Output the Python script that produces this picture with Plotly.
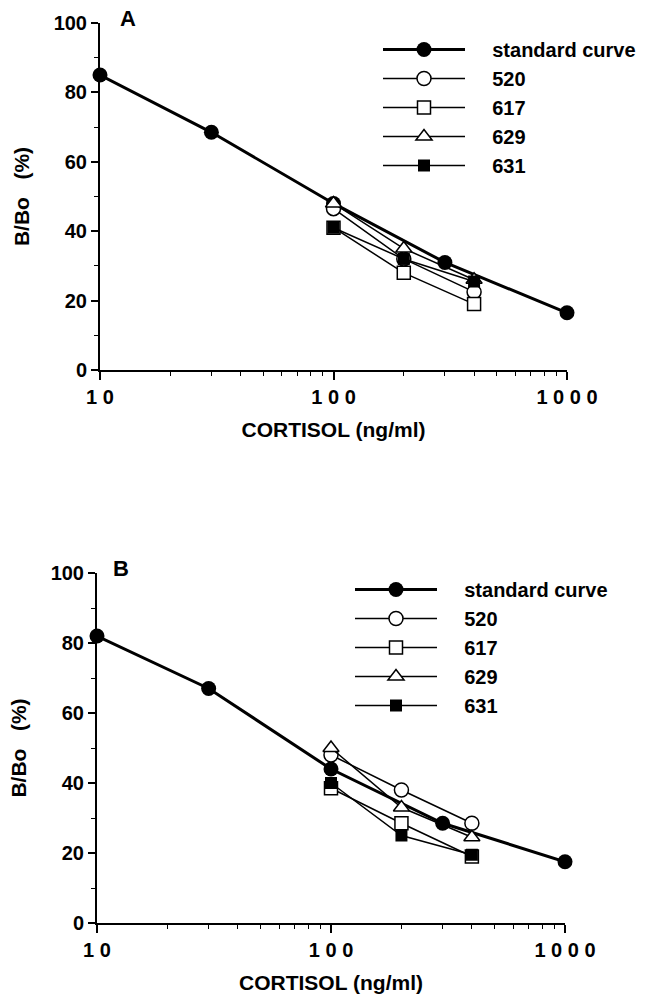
import plotly.graph_objects as go

# ---- data ----
std_x = [10, 30, 100, 300, 1000]
smp_x = [100, 200, 400]

A_std = [85, 68.5, 48, 31, 16.5]
A_520 = [46.5, 32, 22.5]
A_617 = [41, 28, 19]
A_629 = [48, 35, 26]
A_631 = [41, 32, 25.5]

B_std = [82, 67, 44, 28.5, 17.5]
B_520 = [48, 38, 28.5]
B_617 = [38.5, 28.5, 19]
B_629 = [50, 33, 24.5]
B_631 = [40, 25, 19.5]

names = ["standard curve", "520", "617", "629", "631"]
x_ticks = [10, 100, 1000]
x_ticktext = ["1 0", "1 0 0", "1 0 0 0"]
x_minor = [20, 30, 40, 50, 60, 70, 80, 90, 200, 300, 400, 500, 600, 700, 800, 900]

FONT = "Liberation Sans, Arial, sans-serif"
PAD = "\u00a0" * 4

styles = [
    dict(symbol="circle", size=15, fill="black", lw=3),
    dict(symbol="circle", size=14, fill="white", lw=1.5),
    dict(symbol="square", size=13, fill="white", lw=1.5),
    dict(symbol="triangle-up", size=14, fill="white", lw=1.5),
    dict(symbol="square", size=12, fill="black", lw=1.5),
]

fig = go.Figure()

def add_panel(series, xa, ya, legend):
    for i, (nm, xs, ys) in enumerate(series):
        st = styles[i]
        marker = dict(symbol=st["symbol"], size=st["size"], color=st["fill"],
                      line=dict(color="black", width=1.5 if st["fill"] == "white" else 0))
        fig.add_trace(go.Scatter(
            x=xs, y=ys, name=PAD + nm, mode="lines+markers",
            line=dict(color="black", width=st["lw"]),
            marker=marker, xaxis=xa, yaxis=ya, legend=legend,
            cliponaxis=False,
        ))

add_panel([(names[0], std_x, A_std), (names[1], smp_x, A_520), (names[2], smp_x, A_617),
           (names[3], smp_x, A_629), (names[4], smp_x, A_631)], "x", "y", "legend")
add_panel([(names[0], std_x, B_std), (names[1], smp_x, B_520), (names[2], smp_x, B_617),
           (names[3], smp_x, B_629), (names[4], smp_x, B_631)], "x2", "y2", "legend2")

tickfont = dict(family=FONT, size=20, color="black", weight="bold")
titlefont = dict(family=FONT, size=21, color="black", weight="bold")

def xaxis(domain, anchor):
    return dict(
        domain=domain, anchor=anchor, type="log", range=[1, 3], automargin=False,
        tickmode="array", tickvals=x_ticks, ticktext=x_ticktext,
        ticks="outside", ticklen=8, tickwidth=1.5, tickcolor="black",
        showline=True, linecolor="black", linewidth=2,
        showgrid=False, zeroline=False,
        tickfont=tickfont,
        minor=dict(tickmode="array", tickvals=x_minor, ticks="outside",
                   ticklen=4, tickwidth=1.2, tickcolor="black", showgrid=False),
        title=dict(text="CORTISOL (ng/ml)", font=titlefont, standoff=15),
    )

def yaxis(domain, anchor):
    return dict(
        domain=domain, anchor=anchor, range=[0, 100], automargin=False,
        tickmode="linear", tick0=0, dtick=20,
        ticks="outside", ticklen=7, tickwidth=1.5, tickcolor="black",
        showline=True, linecolor="black", linewidth=2,
        showgrid=False, zeroline=False,
        tickfont=tickfont,
        minor=dict(dtick=10, ticks="outside", ticklen=4, tickwidth=1.2,
                   tickcolor="black", showgrid=False),
        title=dict(text="B/Bo\u00a0\u00a0\u00a0(%)", font=titlefont, standoff=18),
    )

legfont = dict(family=FONT, size=20, color="black", weight="bold")

fig.update_layout(
    width=659, height=1000,
    margin=dict(l=0, r=0, t=0, b=0, autoexpand=False),
    paper_bgcolor="white", plot_bgcolor="white",
    xaxis=xaxis([100 / 659, 567 / 659], "y"),
    yaxis=yaxis([1 - 370 / 1000, 1 - 23 / 1000], "x"),
    xaxis2=xaxis([97 / 659, 565 / 659], "y2"),
    yaxis2=yaxis([1 - 923 / 1000, 1 - 573 / 1000], "x2"),
    legend=dict(x=378 / 659, y=1 - 30 / 1000, xanchor="left", yanchor="top",
                font=legfont, itemwidth=82, bgcolor="rgba(0,0,0,0)",
                tracegroupgap=0),
    legend2=dict(x=350 / 659, y=1 - 570 / 1000, xanchor="left", yanchor="top",
                 font=legfont, itemwidth=82, bgcolor="rgba(0,0,0,0)",
                 tracegroupgap=0),
    annotations=[
        dict(text="A", x=128 / 659, y=1 - 18 / 1000, xref="paper", yref="paper",
             xanchor="center", yanchor="middle", showarrow=False,
             font=dict(family=FONT, size=22, color="black", weight="bold")),
        dict(text="B", x=121 / 659, y=1 - 568 / 1000, xref="paper", yref="paper",
             xanchor="center", yanchor="middle", showarrow=False,
             font=dict(family=FONT, size=22, color="black", weight="bold")),
    ],
)

fig.write_html("out.html")
